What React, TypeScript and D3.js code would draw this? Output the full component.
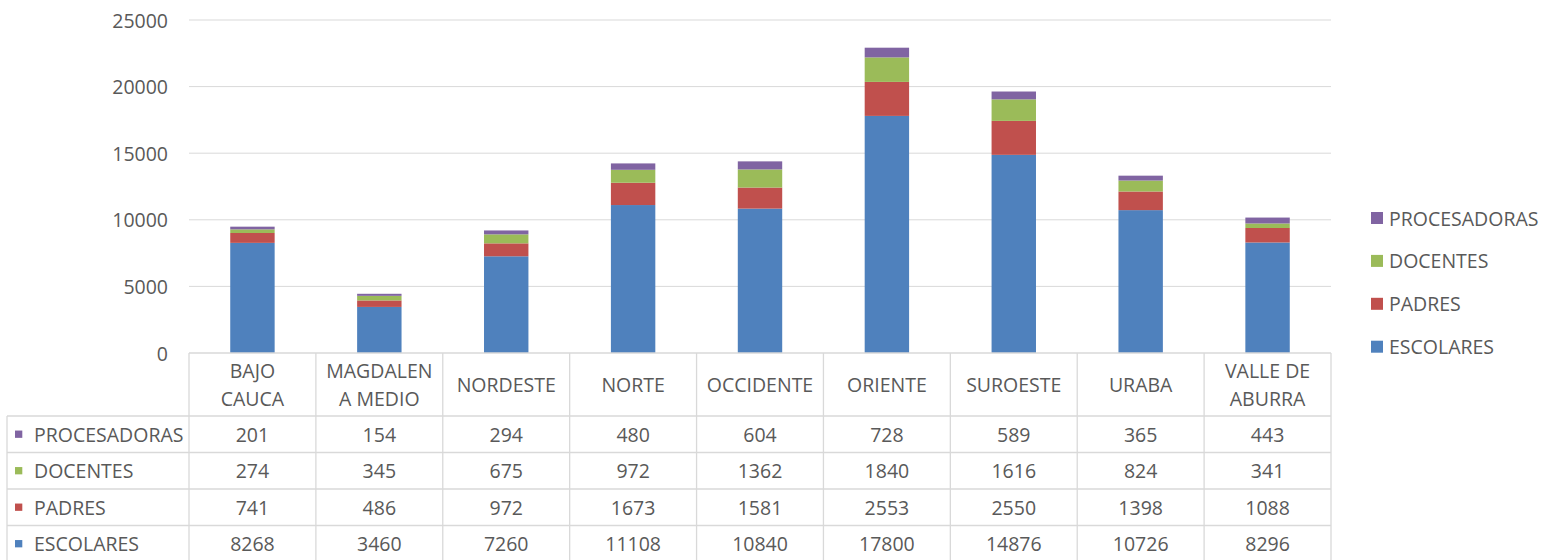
import * as d3 from "d3";

const categories = [
  "BAJO CAUCA",
  "MAGDALENA MEDIO",
  "NORDESTE",
  "NORTE",
  "OCCIDENTE",
  "ORIENTE",
  "SUROESTE",
  "URABA",
  "VALLE DE ABURRA",
];
// wrapped header lines as they appear in the table
const headerLines = [
  ["BAJO", "CAUCA"],
  ["MAGDALEN", "A MEDIO"],
  ["NORDESTE"],
  ["NORTE"],
  ["OCCIDENTE"],
  ["ORIENTE"],
  ["SUROESTE"],
  ["URABA"],
  ["VALLE DE", "ABURRA"],
];

const escolares = [8268, 3460, 7260, 11108, 10840, 17800, 14876, 10726, 8296];
const padres = [741, 486, 972, 1673, 1581, 2553, 2550, 1398, 1088];
const docentes = [274, 345, 675, 972, 1362, 1840, 1616, 824, 341];
const procesadoras = [201, 154, 294, 480, 604, 728, 589, 365, 443];

const seriesNames = ["ESCOLARES", "PADRES", "DOCENTES", "PROCESADORAS"];
const seriesValues = [escolares, padres, docentes, procesadoras];
const colors = ["#4F81BD", "#C0504D", "#9BBB59", "#8064A2"];

const yTicks = [0, 5000, 10000, 15000, 20000, 25000];

/** svg dimensions */
const width = 1547;
const height = 560;
const plotLeft = 189;
const plotRight = 1331;
const plotTop = 20;
const plotBottom = 353;
const headerBottom = 416;
const rowHeight = 36.5;
const tableLeft = 7;
const font = "'Open Sans', sans-serif";
const fontSize = 19.5;
const textColor = "#595959";
const lineColor = "#d9d9d9";

const App = () => {
  const rows = categories.map((c, i) => {
    const r: Record<string, number | string> = { category: c };
    seriesNames.forEach((s, k) => (r[s] = seriesValues[k][i]));
    return r;
  });
  const stacked = d3.stack<Record<string, number | string>>().keys(seriesNames)(rows);

  const x = d3
    .scaleBand()
    .domain(categories)
    .range([plotLeft, plotRight])
    .paddingInner(0.65)
    .paddingOuter(0.325);
  const col = d3.scaleBand().domain(categories).range([plotLeft, plotRight]);
  const y = d3.scaleLinear().domain([0, 25000]).range([plotBottom, plotTop]);

  // table rows top to bottom: PROCESADORAS, DOCENTES, PADRES, ESCOLARES
  const tableOrder = [3, 2, 1, 0];

  return (
    <svg
      width={width}
      height={height}
      viewBox={[0, 0, width, height].join(" ")}
      style={{ position: "absolute", left: 0, top: 0, fontFamily: font }}
    >
      <rect width={width} height={height} fill="#fff" />
      {/* gridlines and y ticks */}
      {yTicks.map((t) => (
        <g key={t}>
          {t > 0 && (
            <line x1={plotLeft} x2={plotRight} y1={y(t)} y2={y(t)} stroke={lineColor} strokeWidth={1} />
          )}
          <text
            x={168}
            y={y(t)}
            textAnchor="end"
            dominantBaseline="central"
            fontSize={fontSize}
            fill={textColor}
          >
            {t}
          </text>
        </g>
      ))}
      {/* stacked bars */}
      {stacked.map((layer, k) => (
        <g key={layer.key} fill={colors[k]}>
          {layer.map((d, i) => (
            <rect
              key={i}
              x={x(categories[i])}
              width={x.bandwidth()}
              y={y(d[1])}
              height={y(d[0]) - y(d[1])}
            />
          ))}
        </g>
      ))}
      {/* table lines */}
      <g stroke={lineColor} strokeWidth={1.3}>
        <line x1={plotLeft} x2={plotRight} y1={plotBottom} y2={plotBottom} />
        {[0, 1, 2, 3, 4].map((r) => (
          <line
            key={r}
            x1={tableLeft}
            x2={plotRight}
            y1={headerBottom + r * rowHeight}
            y2={headerBottom + r * rowHeight}
          />
        ))}
        <line x1={tableLeft} x2={tableLeft} y1={headerBottom} y2={height} />
        {categories.map((c) => (
          <line key={c} x1={col(c)} x2={col(c)} y1={plotBottom} y2={height} />
        ))}
        <line x1={plotRight} x2={plotRight} y1={plotBottom} y2={height} />
      </g>
      {/* header labels */}
      {headerLines.map((lines, i) => {
        const cx = col(categories[i])! + col.bandwidth() / 2;
        const cy = (plotBottom + headerBottom) / 2;
        const lh = 27.5;
        return (
          <text key={i} textAnchor="middle" fontSize={fontSize} fill={textColor}>
            {lines.map((l, j) => (
              <tspan
                key={j}
                x={cx}
                y={cy + (j - (lines.length - 1) / 2) * lh}
                dominantBaseline="central"
              >
                {l}
              </tspan>
            ))}
          </text>
        );
      })}
      {/* table rows */}
      {tableOrder.map((k, r) => {
        const cy = headerBottom + (r + 0.5) * rowHeight;
        return (
          <g key={k}>
            <rect x={15} y={cy - 3.7} width={7.3} height={7.3} fill={colors[k]} />
            <text x={34} y={cy} dominantBaseline="central" fontSize={fontSize} fill={textColor}>
              {seriesNames[k]}
            </text>
            {seriesValues[k].map((v, i) => (
              <text
                key={i}
                x={col(categories[i])! + col.bandwidth() / 2}
                y={cy}
                textAnchor="middle"
                dominantBaseline="central"
                fontSize={fontSize}
                fill={textColor}
              >
                {v}
              </text>
            ))}
          </g>
        );
      })}
      {/* legend */}
      {tableOrder.map((k, r) => {
        const cy = 218 + r * 42.9;
        return (
          <g key={k}>
            <rect x={1371} y={cy - 6} width={12} height={12} fill={colors[k]} />
            <text x={1389} y={cy} dominantBaseline="central" fontSize={fontSize} fill={textColor}>
              {seriesNames[k]}
            </text>
          </g>
        );
      })}
    </svg>
  );
};

export default App;
